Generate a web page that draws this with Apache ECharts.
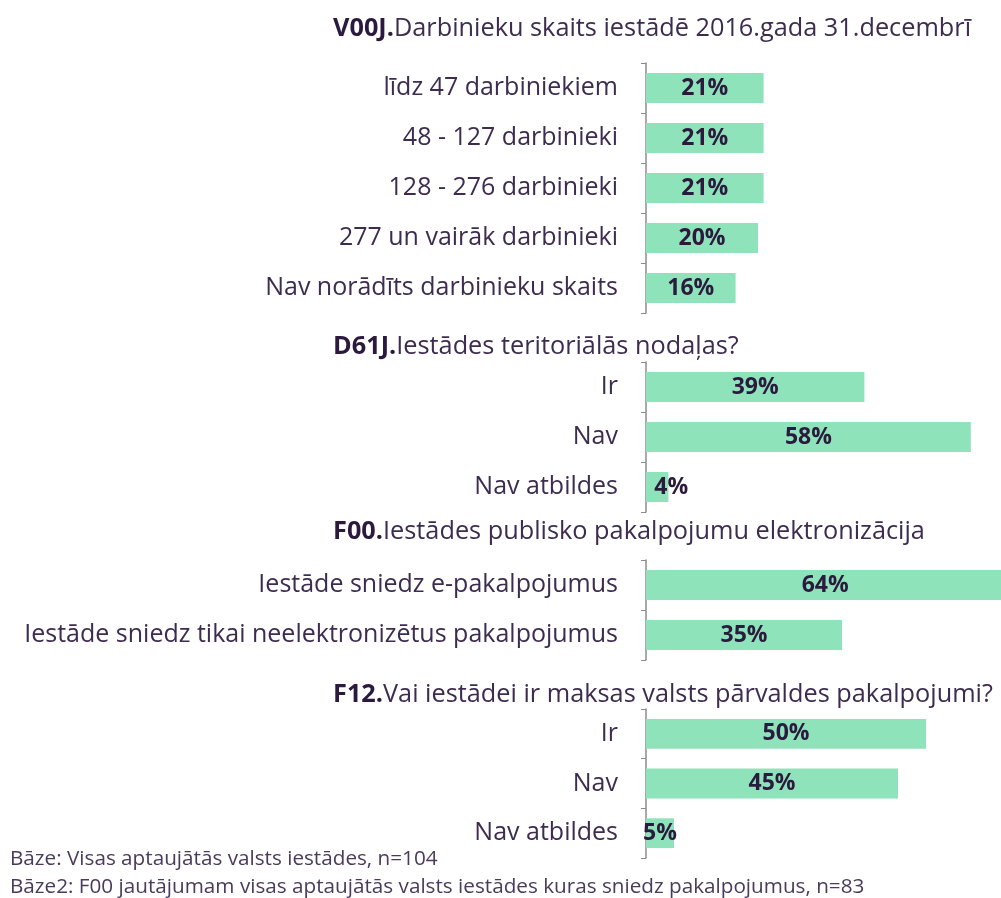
<!DOCTYPE html>
<html>
<head>
<meta charset="utf-8">
<script src="https://cdn.jsdelivr.net/npm/echarts@6/dist/echarts.min.js"></script>
<style>
  html, body { margin: 0; padding: 0; background: #fff; }
  #chart { width: 1001px; height: 898px; }
</style>
</head>
<body>
<div id="chart"></div>
<script>
// section headings: bold code + question text
var codes = ['V00J.', 'D61J.', 'F00.', 'F12.'];
var questions = [
  'Darbinieku skaits iestādē 2016.gada 31.decembrī',
  'Iestādes teritoriālās nodaļas?',
  'Iestādes publisko pakalpojumu elektronizācija',
  'Vai iestādei ir maksas valsts pārvaldes pakalpojumi?'
];

// categories and values per section (percent)
var cats1 = ['līdz 47 darbiniekiem', '48 - 127 darbinieki', '128 - 276 darbinieki', '277 un vairāk darbinieki', 'Nav norādīts darbinieku skaits'];
var vals1 = [21, 21, 21, 20, 16];
var cats2 = ['Ir', 'Nav', 'Nav atbildes'];
var vals2 = [39, 58, 4];
var cats3 = ['Iestāde sniedz e-pakalpojumus', 'Iestāde sniedz tikai neelektronizētus pakalpojumus'];
var vals3 = [64, 35];
var cats4 = ['Ir', 'Nav', 'Nav atbildes'];
var vals4 = [50, 45, 5];

var footnotes = [
  'Bāze: Visas aptaujātās valsts iestādes, n=104',
  'Bāze2: F00 jautājumam visas aptaujātās valsts iestādes kuras sniedz pakalpojumus, n=83'
];

var FONT = '"Open Sans", "Noto Sans", sans-serif';
var textColor = '#3d2c50';
var darkColor = '#2b1a3d';
var barColor = '#8fe3bb';

var sections = [
  { cats: cats1, vals: vals1, top: 63, height: 250, titleY: 27 },
  { cats: cats2, vals: vals2, top: 362, height: 150, titleY: 345 },
  { cats: cats3, vals: vals3, top: 560, height: 100, titleY: 530 },
  { cats: cats4, vals: vals4, top: 709, height: 149, titleY: 693 }
];

var chart = echarts.init(document.getElementById('chart'), null, { renderer: 'canvas' });

var grids = [], xAxes = [], yAxes = [], series = [], titles = [];

sections.forEach(function (s, i) {
  // plot runs from the axis to the right edge; the 64% bar runs off the page
  grids.push({ left: 646, top: s.top, right: 0, height: s.height, containLabel: false });
  xAxes.push({ type: 'value', gridIndex: i, min: 0, max: 355 / 5.6, show: false });
  yAxes.push({
    type: 'category', gridIndex: i, data: s.cats, inverse: true,
    axisLine: { show: true, lineStyle: { color: '#8c8c8c', width: 1.5 } },
    axisTick: { show: true, length: 5, lineStyle: { color: '#8c8c8c' } },
    axisLabel: { color: textColor, fontFamily: FONT, fontSize: 25, margin: 28 },
    splitLine: { show: false }
  });
  series.push({
    type: 'bar', xAxisIndex: i, yAxisIndex: i,
    data: s.vals.map(function (v) {
      // tiny bars: label sits just right of centre, as in the original
      return v < 5 ? { value: v, label: { offset: [14, 0] } } : v;
    }),
    barCategoryGap: '40%',
    clip: false,
    itemStyle: { color: barColor },
    label: {
      show: true, position: 'inside', formatter: '{c}%',
      color: darkColor, fontFamily: FONT, fontWeight: 'bold', fontSize: 23
    },
    silent: true
  });
  titles.push({
    text: '{b|' + codes[i] + '}{n|' + questions[i] + '}',
    left: 333, top: s.titleY - 11, padding: 0,
    textStyle: {
      rich: {
        b: { fontFamily: FONT, fontSize: 25.3, fontWeight: 'bold', color: darkColor },
        n: { fontFamily: FONT, fontSize: 25.3, fontWeight: 'normal', color: textColor }
      }
    }
  });
});

titles.push({
  text: footnotes[0], left: 10, top: 849, padding: 0,
  textStyle: { fontFamily: FONT, fontSize: 20.7, fontWeight: 'normal', color: '#4a3a5c' }
});
titles.push({
  text: footnotes[1], left: 10, top: 877, padding: 0,
  textStyle: { fontFamily: FONT, fontSize: 20.7, fontWeight: 'normal', color: '#4a3a5c' }
});

chart.setOption({
  backgroundColor: '#ffffff',
  animation: false,
  title: titles,
  grid: grids,
  xAxis: xAxes,
  yAxis: yAxes,
  series: series
});
</script>
</body>
</html>
